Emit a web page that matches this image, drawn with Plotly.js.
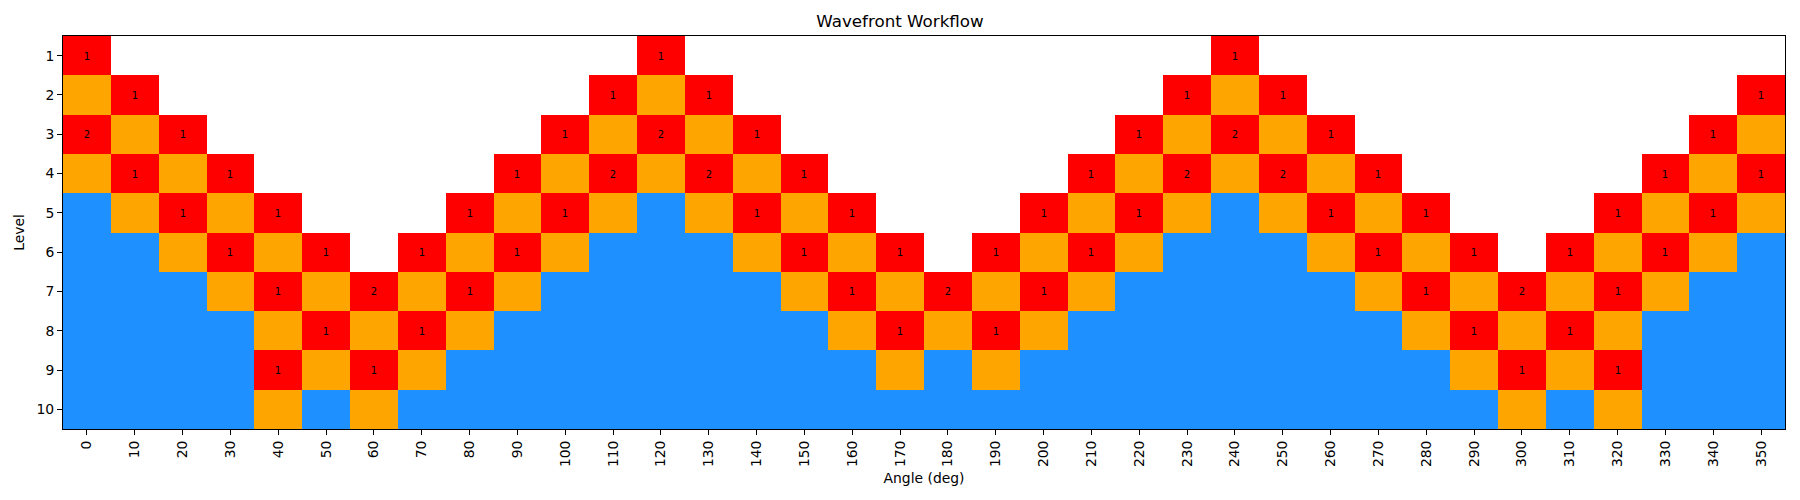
<!DOCTYPE html>
<html>
<head>
<meta charset="utf-8">
<script src="https://cdn.plot.ly/plotly-3.0.1.min.js"></script>
<style>html,body{margin:0;padding:0;background:#fff;}#chart{width:1800px;height:500px;}</style>
</head>
<body>
<div id="chart"></div>
<script>
// Angles (columns) and levels (rows)
const angles = [0,10,20,30,40,50,60,70,80,90,100,110,120,130,140,150,160,170,180,190,200,210,220,230,240,250,260,270,280,290,300,310,320,330,340,350];
const levels = [1,2,3,4,5,6,7,8,9,10];

// State per cell: 0 = not reached, 1 = active (red), 2 = pending (orange), 3 = done (blue)
const level1  = [1,0,0,0,0,0,0,0,0,0,0,0,1,0,0,0,0,0,0,0,0,0,0,0,1,0,0,0,0,0,0,0,0,0,0,0];
const level2  = [2,1,0,0,0,0,0,0,0,0,0,1,2,1,0,0,0,0,0,0,0,0,0,1,2,1,0,0,0,0,0,0,0,0,0,1];
const level3  = [1,2,1,0,0,0,0,0,0,0,1,2,1,2,1,0,0,0,0,0,0,0,1,2,1,2,1,0,0,0,0,0,0,0,1,2];
const level4  = [2,1,2,1,0,0,0,0,0,1,2,1,2,1,2,1,0,0,0,0,0,1,2,1,2,1,2,1,0,0,0,0,0,1,2,1];
const level5  = [3,2,1,2,1,0,0,0,1,2,1,2,3,2,1,2,1,0,0,0,1,2,1,2,3,2,1,2,1,0,0,0,1,2,1,2];
const level6  = [3,3,2,1,2,1,0,1,2,1,2,3,3,3,2,1,2,1,0,1,2,1,2,3,3,3,2,1,2,1,0,1,2,1,2,3];
const level7  = [3,3,3,2,1,2,1,2,1,2,3,3,3,3,3,2,1,2,1,2,1,2,3,3,3,3,3,2,1,2,1,2,1,2,3,3];
const level8  = [3,3,3,3,2,1,2,1,2,3,3,3,3,3,3,3,2,1,2,1,2,3,3,3,3,3,3,3,2,1,2,1,2,3,3,3];
const level9  = [3,3,3,3,1,2,1,2,3,3,3,3,3,3,3,3,3,2,3,2,3,3,3,3,3,3,3,3,3,2,1,2,1,3,3,3];
const level10 = [3,3,3,3,2,3,2,3,3,3,3,3,3,3,3,3,3,3,3,3,3,3,3,3,3,3,3,3,3,3,2,3,2,3,3,3];

// Counts shown in active (red) cells
const count1  = [1,0,0,0,0,0,0,0,0,0,0,0,1,0,0,0,0,0,0,0,0,0,0,0,1,0,0,0,0,0,0,0,0,0,0,0];
const count2  = [0,1,0,0,0,0,0,0,0,0,0,1,0,1,0,0,0,0,0,0,0,0,0,1,0,1,0,0,0,0,0,0,0,0,0,1];
const count3  = [2,0,1,0,0,0,0,0,0,0,1,0,2,0,1,0,0,0,0,0,0,0,1,0,2,0,1,0,0,0,0,0,0,0,1,0];
const count4  = [0,1,0,1,0,0,0,0,0,1,0,2,0,2,0,1,0,0,0,0,0,1,0,2,0,2,0,1,0,0,0,0,0,1,0,1];
const count5  = [0,0,1,0,1,0,0,0,1,0,1,0,0,0,1,0,1,0,0,0,1,0,1,0,0,0,1,0,1,0,0,0,1,0,1,0];
const count6  = [0,0,0,1,0,1,0,1,0,1,0,0,0,0,0,1,0,1,0,1,0,1,0,0,0,0,0,1,0,1,0,1,0,1,0,0];
const count7  = [0,0,0,0,1,0,2,0,1,0,0,0,0,0,0,0,1,0,2,0,1,0,0,0,0,0,0,0,1,0,2,0,1,0,0,0];
const count8  = [0,0,0,0,0,1,0,1,0,0,0,0,0,0,0,0,0,1,0,1,0,0,0,0,0,0,0,0,0,1,0,1,0,0,0,0];
const count9  = [0,0,0,0,1,0,1,0,0,0,0,0,0,0,0,0,0,0,0,0,0,0,0,0,0,0,0,0,0,0,1,0,1,0,0,0];
const count10 = [0,0,0,0,0,0,0,0,0,0,0,0,0,0,0,0,0,0,0,0,0,0,0,0,0,0,0,0,0,0,0,0,0,0,0,0];

const states = [level1,level2,level3,level4,level5,level6,level7,level8,level9,level10];
const counts = [count1,count2,count3,count4,count5,count6,count7,count8,count9,count10];
const text = counts.map((row, i) => row.map((c, j) => (states[i][j] === 1 && c > 0) ? String(c) : ''));

const colorscale = [
  [0, '#ffffff'], [0.1667, '#ffffff'],
  [0.1667, '#ff0000'], [0.5, '#ff0000'],
  [0.5, '#ffa500'], [0.8333, '#ffa500'],
  [0.8333, '#1e90ff'], [1, '#1e90ff']
];

const trace = {
  type: 'heatmap',
  x: angles,
  y: levels,
  z: states,
  zmin: 0, zmax: 3,
  colorscale: colorscale,
  showscale: false,
  text: text,
  texttemplate: '%{text}',
  textfont: {family: 'DejaVu Sans', size: 10, color: '#000000'},
  xgap: 0, ygap: 0,
  hoverinfo: 'skip'
};

const layout = {
  width: 1800, height: 500,
  margin: {l: 63, r: 15, t: 36, b: 71},
  paper_bgcolor: '#ffffff', plot_bgcolor: '#ffffff',
  font: {family: 'DejaVu Sans', size: 13.9, color: '#000000'},
  title: {text: 'Wavefront Workflow', font: {family: 'DejaVu Sans', size: 16.7, color: '#000'}, x: 0.5, xanchor: 'center', y: 1 - 21/500, yanchor: 'middle'},
  xaxis: {
    range: [-5, 355],
    tickmode: 'array', tickvals: angles, ticktext: angles.map(String),
    tickangle: -90,
    ticks: 'outside', ticklen: 5, tickwidth: 1, tickcolor: '#000',
    showline: true, linecolor: '#000', linewidth: 1, mirror: true,
    showgrid: false, zeroline: false,
    tickfont: {size: 13.9},
    title: {text: 'Angle (deg)', font: {size: 13.9}, standoff: 7},
    automargin: false
  },
  yaxis: {
    range: [10.5, 0.5],
    tickmode: 'array', tickvals: levels, ticktext: levels.map(String),
    ticks: 'outside', ticklen: 5, tickwidth: 1, tickcolor: '#000',
    showline: true, linecolor: '#000', linewidth: 1, mirror: true,
    showgrid: false, zeroline: false,
    tickfont: {size: 13.9},
    title: {text: 'Level', font: {size: 13.9}, standoff: 8},
    automargin: false
  }
};

Plotly.newPlot('chart', [trace], layout, {displayModeBar: false, staticPlot: true});
</script>
</body>
</html>
